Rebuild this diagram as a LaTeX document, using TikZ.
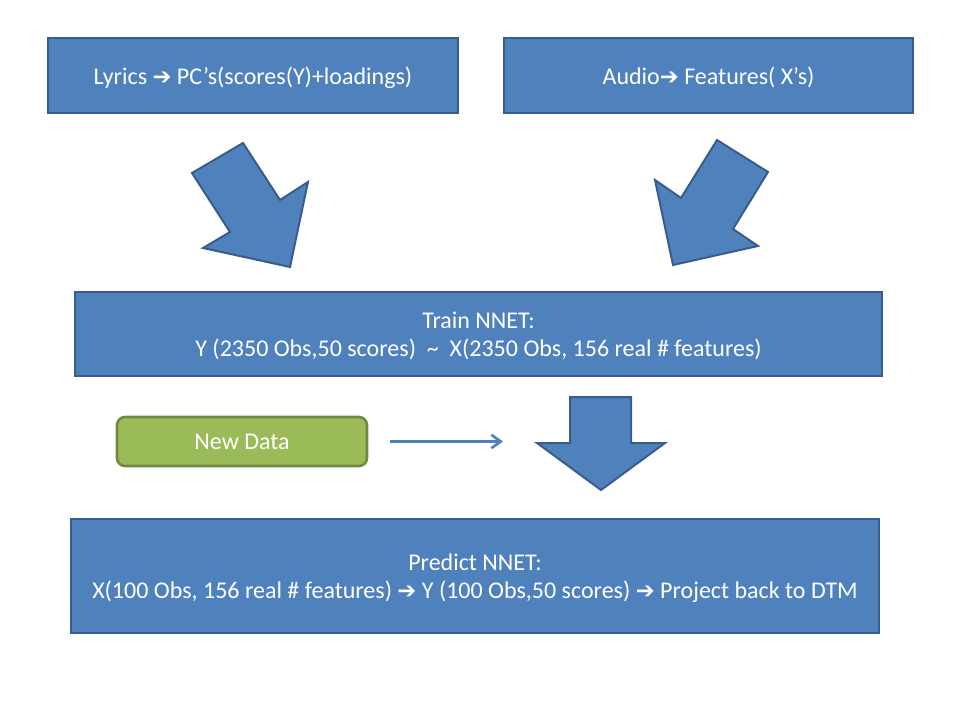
\documentclass[tikz,border=0pt]{standalone}
\usepackage{fontspec}
\setmainfont{Carlito}
\newfontfamily\symfont{DejaVu Sans}
\usetikzlibrary{arrows.meta, calc}
\definecolor{boxfill}{RGB}{79, 129, 189}
\definecolor{boxline}{RGB}{56, 93, 138}
\definecolor{datafill}{RGB}{155, 187, 89}
\definecolor{dataline}{RGB}{113, 137, 63}
\newcommand{\harrow}{{\symfont\fontsize{17}{18}\selectfont ➔}}
\tikzset{
    stepbox/.style={draw=boxline, fill=boxfill, line width=1.9pt,
        text=white, font=\fontsize{18}{21}\selectfont, align=center,
        inner sep=0pt, text depth=0pt},
    databox/.style={draw=dataline, fill=datafill, line width=1.9pt,
        rounded corners=6pt, text=white, text depth=0pt,
        font=\fontsize{18}{21}\selectfont, inner sep=0pt},
    blockarrow/.style={draw=boxline, fill=boxfill, line width=1.5pt,
        line join=miter},
}
\begin{document}
\begin{tikzpicture}[x=0.75pt, y=-0.75pt]
    \useasboundingbox (0, 0) rectangle (960, 720);
    \node[stepbox, minimum width=410*0.75pt, minimum height=75*0.75pt]
        (lyrics) at (253, 75.5) {Lyrics \harrow{} PC’s(scores(Y)+loadings)};
    \node[stepbox, minimum width=409*0.75pt, minimum height=75*0.75pt]
        (audio) at (708.5, 75.5) {Audio\harrow{} Features( X’s)};
    \node[stepbox, minimum width=807*0.75pt, minimum height=84*0.75pt]
        (train) at (478.5, 334)
        {Train NNET:\\Y (2350 Obs,50 scores)\ \ \textasciitilde\ \ X(2350 Obs, 156 real \# features)};
    \node[databox, minimum width=250*0.75pt, minimum height=49*0.75pt]
        (newdata) at (242, 441.5) {New Data};
    \node[stepbox, minimum width=808*0.75pt, minimum height=114*0.75pt]
        (predict) at (475, 576)
        {Predict NNET:\\X(100 Obs, 156 real \# features) \harrow{} Y (100 Obs,50 scores) \harrow{} Project back to DTM};
    % block arrows
    \draw[blockarrow] (192, 173) -- (243, 143) -- (280, 200) -- (308, 182)
        -- (290, 267) -- (203, 248) -- (230, 232) -- cycle;
    \draw[blockarrow] (717, 140) -- (768, 172) -- (733, 229) -- (758, 246)
        -- (673, 265) -- (655, 180) -- (681, 198) -- cycle;
    \draw[blockarrow] (570, 397) -- (631, 397) -- (631, 443) -- (665, 443)
        -- (601, 490) -- (537, 443) -- (570, 443) -- cycle;
    \coordinate (feedstart) at ($(newdata.east) + (22, 0)$);
    \coordinate (feedend) at (503, 441.5);
    \draw[boxfill, line width=2pt, -{Straight Barb[length=7pt, width=10pt]}]
        (feedstart) -- (feedend);
\end{tikzpicture}
\end{document}
